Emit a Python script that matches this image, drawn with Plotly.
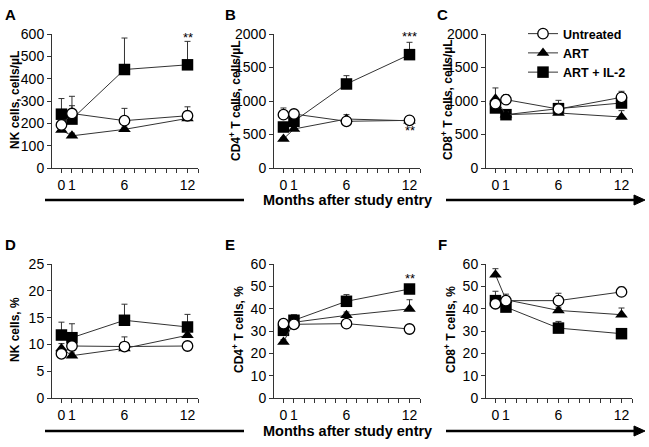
import plotly.graph_objects as go

W, H = 649, 447

months = [0, 1, 6, 12]
tick_vals = [0, 1, 6, 12]
tick_text = ["0", "1", "6", "12"]

series_names = ["Untreated", "ART", "ART + IL-2"]

# Panel A: NK cells, cells/uL
A_untreated = [193, 244, 212, 234]
A_untreated_err = [15, 77, 55, 40]
A_art = [170, 144, 173, 222]
A_art_err = [12, 12, 10, 12]
A_il2 = [241, 219, 441, 462]
A_il2_err = [70, 60, 141, 105]

# Panel B: CD4+ T cells, cells/uL
B_untreated = [796, 806, 697, 711]
B_untreated_err = [100, 40, 20, 30]
B_art = [433, 582, 731, 705]
B_art_err = [20, 20, 65, 30]
B_il2 = [612, 697, 1254, 1692]
B_il2_err = [40, 40, 124, 184]

# Panel C: CD8+ T cells, cells/uL
C_untreated = [960, 1020, 880, 1055]
C_untreated_err = [60, 75, 130, 90]
C_art = [1035, 796, 821, 761]
C_art_err = [160, 40, 40, 95]
C_il2 = [896, 796, 886, 970]
C_il2_err = [60, 50, 60, 50]

# Panel D: NK cells, %
D_untreated = [8.25, 9.7, 9.6, 9.7]
D_untreated_err = [0.5, 0.5, 1.8, 0.4]
D_art = [9.25, 7.9, 9.25, 11.7]
D_art_err = [0.9, 0.5, 0.6, 0.6]
D_il2 = [11.75, 11.25, 14.5, 13.25]
D_il2_err = [2.4, 2.6, 3.0, 2.35]

# Panel E: CD4+ T cells, %
E_untreated = [33.3, 33.0, 33.3, 30.9]
E_untreated_err = [1.0, 1.0, 1.0, 1.0]
E_art = [25.1, 33.9, 37.0, 39.9]
E_art_err = [1.0, 1.0, 1.5, 4.1]
E_il2 = [30.3, 34.8, 43.3, 48.8]
E_il2_err = [1.5, 2.5, 3.0, 1.0]

# Panel F: CD8+ T cells, %
F_untreated = [42.2, 43.6, 43.6, 47.5]
F_untreated_err = [1.5, 1.5, 3.3, 2.2]
F_art = [55.2, 44.0, 39.2, 37.3]
F_art_err = [2.7, 2.5, 1.5, 3.0]
F_il2 = [43.6, 40.7, 31.3, 28.8]
F_il2_err = [4.2, 2.6, 3.0, 1.0]

panels = [
    ("A", "NK cells, cells/µL", [0, 600], 100,
     (A_untreated, A_untreated_err), (A_art, A_art_err), (A_il2, A_il2_err)),
    ("B", "CD4<sup>+</sup> T cells, cells/µL", [0, 2000], 500,
     (B_untreated, B_untreated_err), (B_art, B_art_err), (B_il2, B_il2_err)),
    ("C", "CD8<sup>+</sup> T cells, cells/µL", [0, 2000], 500,
     (C_untreated, C_untreated_err), (C_art, C_art_err), (C_il2, C_il2_err)),
    ("D", "NK cells, %", [0, 25], 5,
     (D_untreated, D_untreated_err), (D_art, D_art_err), (D_il2, D_il2_err)),
    ("E", "CD4<sup>+</sup> T cells, %", [0, 60], 10,
     (E_untreated, E_untreated_err), (E_art, E_art_err), (E_il2, E_il2_err)),
    ("F", "CD8<sup>+</sup> T cells, %", [0, 60], 10,
     (F_untreated, F_untreated_err), (F_art, F_art_err), (F_il2, F_il2_err)),
]

# pixel geometry (layout only)
x_left = [52, 274, 486, 52, 274, 486]
x_width = 146
row_top = {0: 34, 1: 264}
row_bot = {0: 168, 1: 398}
title_x = [15, 235, 447, 15, 238, 450]
title_y = [100, 100, 100, 330, 330, 330]
label_x = [10, 230, 442, 10, 230, 442]
label_y = [15, 15, 15, 245, 245, 245]

FONT = "Arial, Liberation Sans, Helvetica, sans-serif"
LINE = "#333333"

fig = go.Figure()
layout_axes = {}
annotations = []

styles = [
    dict(symbol="circle", size=10.5, color="white", line=dict(color="black", width=1.3)),
    dict(symbol="triangle-up", size=11, color="black", line=dict(color="black", width=0)),
    dict(symbol="square", size=11.5, color="black", line=dict(color="black", width=0)),
]
draw_order = [2, 1, 0]

for i, (lab, ytitle, yrange, dtick, unt, art, il2) in enumerate(panels):
    idx = i + 1
    xa = "x" if idx == 1 else f"x{idx}"
    ya = "y" if idx == 1 else f"y{idx}"
    row = 0 if i < 3 else 1
    data = [unt, art, il2]
    for k in draw_order:
        vals, errs = data[k]
        fig.add_trace(go.Scatter(
            x=months, y=vals, mode="lines+markers",
            name=series_names[k], showlegend=(i == 0),
            legendrank=k,
            line=dict(color=LINE, width=1),
            marker=styles[k],
            error_y=dict(type="data", symmetric=False, array=errs,
                         arrayminus=[0] * len(errs), color=LINE,
                         thickness=1, width=3),
            xaxis=xa, yaxis=ya, cliponaxis=False,
        ))
    xd = [x_left[i] / W, (x_left[i] + x_width) / W]
    yd = [1 - row_bot[row] / H, 1 - row_top[row] / H]
    layout_axes["xaxis" if idx == 1 else f"xaxis{idx}"] = dict(
        domain=xd, range=[-0.9, 13], anchor=ya, automargin=False,
        tickmode="array", tickvals=tick_vals, ticktext=tick_text,
        ticks="outside", ticklen=4, tickwidth=1, tickcolor=LINE,
        minor=dict(tick0=0, dtick=1, ticks="outside", ticklen=4,
                   tickwidth=1, tickcolor=LINE, showgrid=False),
        showline=True, linecolor=LINE, linewidth=1,
        showgrid=False, zeroline=False,
        tickfont=dict(family=FONT, size=14, color="black"),
    )
    layout_axes["yaxis" if idx == 1 else f"yaxis{idx}"] = dict(
        domain=yd, range=yrange, anchor=xa, dtick=dtick, automargin=False,
        ticks="outside", ticklen=4, tickwidth=1, tickcolor=LINE,
        showline=True, linecolor=LINE, linewidth=1,
        showgrid=False, zeroline=False,
        tickfont=dict(family=FONT, size=14, color="black"),
    )
    annotations.append(dict(
        text=ytitle, textangle=-90, xref="paper", yref="paper",
        x=title_x[i] / W, y=1 - title_y[i] / H, showarrow=False,
        xanchor="center", yanchor="middle",
        font=dict(family=FONT, size=12, color="black", weight="bold"),
    ))
    annotations.append(dict(
        text=lab, xref="paper", yref="paper",
        x=label_x[i] / W, y=1 - label_y[i] / H, showarrow=False,
        xanchor="center", yanchor="middle",
        font=dict(family=FONT, size=15, color="black", weight="bold"),
    ))

# significance marks
sig = [
    ("x", "y", 12, 585, "**"),
    ("x2", "y2", 12, 1960, "***"),
    ("x2", "y2", 12, 560, "**"),
    ("x5", "y5", 12, 53.5, "**"),
    ("x6", "y6", 13.4, 37.3, "**"),
    ("x6", "y6", 13.4, 28.8, "**"),
]
for xr, yr, xv, yv, t in sig:
    annotations.append(dict(
        text=t, xref=xr, yref=yr, x=xv, y=yv, showarrow=False,
        font=dict(family=FONT, size=13, color="black"),
        xanchor="center", yanchor="middle",
    ))

shapes = []
for yline in (200, 431):
    yp = 1 - yline / H
    shapes.append(dict(type="line", xref="paper", yref="paper",
                       x0=45 / W, x1=244 / W, y0=yp, y1=yp,
                       line=dict(color="black", width=2.5)))
    shapes.append(dict(type="line", xref="paper", yref="paper",
                       x0=446 / W, x1=636 / W, y0=yp, y1=yp,
                       line=dict(color="black", width=2.5)))
    shapes.append(dict(type="path", xref="paper", yref="paper",
                       path=f"M {634 / W},{yp + 5 / H} L {645 / W},{yp} L {634 / W},{yp - 5 / H} Z",
                       fillcolor="black", line=dict(color="black", width=1)))
    annotations.append(dict(
        text="Months after study entry", xref="paper", yref="paper",
        x=347 / W, y=yp, showarrow=False, xanchor="center", yanchor="middle",
        font=dict(family=FONT, size=14.5, color="black", weight="bold"),
    ))

fig.update_layout(
    width=W, height=H,
    margin=dict(l=0, r=0, t=0, b=0, autoexpand=False),
    paper_bgcolor="white", plot_bgcolor="white",
    showlegend=True,
    legend=dict(
        x=523 / W, y=1 - 19 / H, xanchor="left", yanchor="top",
        bgcolor="rgba(0,0,0,0)", traceorder="normal",
        font=dict(family=FONT, size=12.5, color="black", weight="bold"),
        itemwidth=30, tracegroupgap=0,
    ),
    annotations=annotations,
    shapes=shapes,
    **layout_axes,
)

fig.write_html("out.html", config={"displayModeBar": False},
               post_script="document.body.style.margin='0px';")
